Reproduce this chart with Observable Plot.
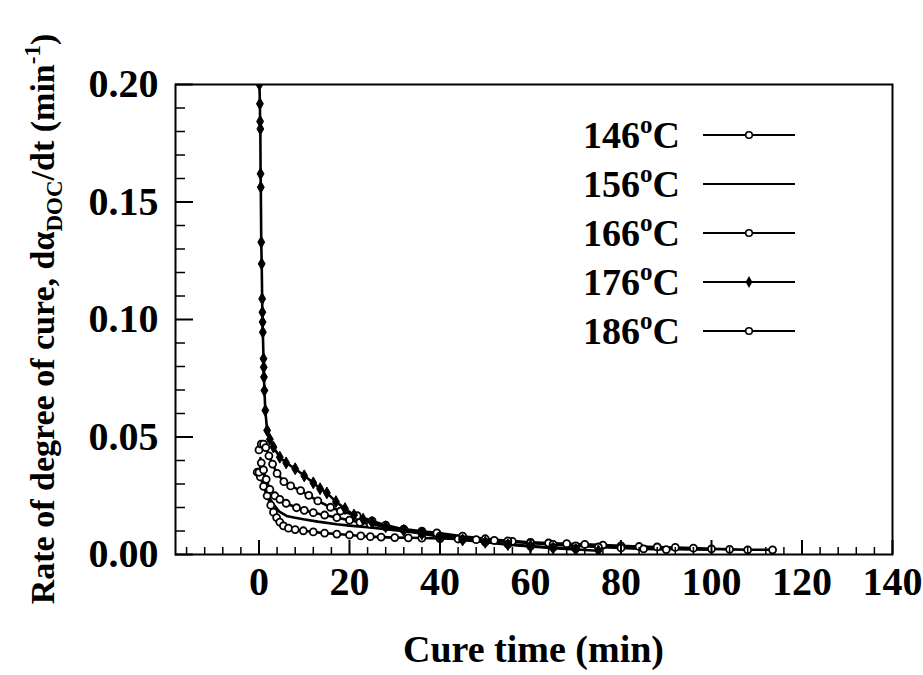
<!DOCTYPE html>
<html>
<head>
<meta charset="utf-8">
<script src="https://cdn.jsdelivr.net/npm/d3@7"></script>
<script src="https://cdn.jsdelivr.net/npm/@observablehq/plot@0.6"></script>
<style>
  html, body { margin: 0; padding: 0; background: white; }
  svg { display: block; }
</style>
</head>
<body>
<div id="chart"></div>
<script>
// ---- data ----
const seriesNames = ["146", "156", "166", "176", "186"];

const t146 = [-0.4, 0.3, 1, 1.8, 2.6, 3.2, 3.9, 4.6, 5.4, 6.5, 8, 9.8, 12, 14.5, 17.2, 20, 22.5, 24.6, 27, 30, 33, 36, 40, 44, 48, 52, 56, 60, 64, 68, 72, 76, 80, 84, 88, 92, 96, 100, 104, 108, 113.5];
const r146 = [0.035, 0.033, 0.029, 0.025, 0.021, 0.018, 0.0157, 0.0138, 0.0122, 0.0112, 0.0106, 0.0101, 0.0096, 0.0091, 0.0087, 0.0083, 0.0079, 0.0076, 0.0074, 0.0072, 0.0071, 0.007, 0.0068, 0.0066, 0.0063, 0.006, 0.0056, 0.0052, 0.0049, 0.0046, 0.0043, 0.004, 0.0037, 0.0034, 0.0032, 0.003, 0.0027, 0.0024, 0.0022, 0.002, 0.002];

const t156 = [0.3, 0.8, 1.4, 2, 3.2, 4.5, 6.1, 8, 9.8, 13, 17.2, 20, 24.6, 28, 32, 36, 40, 45, 50, 55, 60, 65, 70, 75, 80, 85, 90, 95, 100];
const r156 = [0.041, 0.035, 0.029, 0.025, 0.0214, 0.0182, 0.0164, 0.0156, 0.015, 0.014, 0.0129, 0.0123, 0.0115, 0.0108, 0.0099, 0.0091, 0.0083, 0.0073, 0.0064, 0.0056, 0.0049, 0.0043, 0.0038, 0.0034, 0.003, 0.0027, 0.0024, 0.0022, 0.002];

const t166 = [0, 0.5, 1, 1.6, 2.4, 3.5, 4.6, 6, 8.3, 10, 12, 14.5, 17.2, 20, 22.3, 24.6, 28, 32, 36, 39.3, 45, 50, 55, 60, 65, 70, 75, 80, 85, 90];
const r166 = [0.035, 0.039, 0.036, 0.032, 0.0277, 0.025, 0.0235, 0.0218, 0.0199, 0.0188, 0.0178, 0.0168, 0.0157, 0.0146, 0.0137, 0.0129, 0.0118, 0.0108, 0.0099, 0.0092, 0.0078, 0.0067, 0.0058, 0.005, 0.0043, 0.0037, 0.0032, 0.0028, 0.0024, 0.0021];

const t176 = [0.1, 0.2, 0.25, 0.3, 0.35, 0.4, 0.5, 0.6, 0.7, 0.75, 0.8, 0.85, 1.0, 1.05, 1.1, 1.2, 1.4, 1.8, 2.4, 3.2, 4.6, 6, 8, 10, 12, 13.5, 15, 17, 19, 21, 23, 25, 28, 32, 36, 40, 45, 50, 55, 60, 65, 70, 75];
const r176 = [0.2, 0.1918, 0.1843, 0.1811, 0.162, 0.1563, 0.1329, 0.1237, 0.1088, 0.1031, 0.0989, 0.0946, 0.0833, 0.0797, 0.0755, 0.0698, 0.0613, 0.0528, 0.049, 0.0457, 0.0414, 0.039, 0.0365, 0.0335, 0.0305, 0.028, 0.0262, 0.0225, 0.0195, 0.0168, 0.015, 0.0136, 0.0118, 0.0102, 0.0088, 0.0076, 0.0062, 0.0052, 0.0042, 0.0034, 0.0027, 0.0021, 0.0016];

const t186 = [0, 0.5, 1, 1.5, 2.2, 3, 4, 5.5, 7, 9.2, 11, 13, 15.8, 18, 21.7, 25, 28, 32, 36, 40, 45, 50, 55, 60, 65, 70];
const r186 = [0.0445, 0.047, 0.047, 0.0455, 0.042, 0.0385, 0.0345, 0.031, 0.0292, 0.0272, 0.0252, 0.0228, 0.0201, 0.0185, 0.0165, 0.0143, 0.0125, 0.0106, 0.0091, 0.0078, 0.0064, 0.0053, 0.0044, 0.0036, 0.003, 0.0025];

const xMajorTicks = [0, 20, 40, 60, 80, 100, 120, 140];
const xMinorTicks = [-16, -12, -8, -4, 4, 8, 12, 16, 24, 28, 32, 36, 44, 48, 52, 56, 64, 68, 72, 76, 84, 88, 92, 96, 104, 108, 112, 116, 124, 128, 132, 136];
const yMajorTicks = [0, 0.05, 0.10, 0.15, 0.20];
const yMinorTicks = [0.01, 0.02, 0.03, 0.04, 0.06, 0.07, 0.08, 0.09, 0.11, 0.12, 0.13, 0.14, 0.16, 0.17, 0.18, 0.19];

const legendLabels = ["146", "156", "166", "176", "186"];
const xTitle = "Cure time (min)";

// ---- build rows ----
function rows(name, ts, rs) { return ts.map((t, i) => ({series: name, t, r: rs[i]})); }
const d146 = rows("146", t146, r146);
const d156 = rows("156", t156, r156);
const d166 = rows("166", t166, r166);
const d176 = rows("176", t176, r176);
const d186 = rows("186", t186, r186);
const allData = [...d146, ...d156, ...d166, ...d176, ...d186];

const W = 923, H = 675, ML = 175, MR = 31, MT = 84, MB = 121;
const PW = W - ML - MR, PH = H - MT - MB;
const FONT = "'Liberation Serif', 'Times New Roman', Times, serif";

const lineStyle = {x: "t", y: "r", z: "series", stroke: "black", strokeWidth: 2.6, clip: true};
const openDot = {x: "t", y: "r", r: 3.5, stroke: "black", strokeWidth: 1.8, fill: "white", clip: true};

const chart = Plot.plot({
  width: W, height: H,
  marginLeft: ML, marginRight: MR, marginTop: MT, marginBottom: MB,
  x: {domain: [-18.45, 140]},
  y: {domain: [0, 0.2]},
  style: {fontFamily: FONT, fontWeight: "bold", background: "white", color: "black", overflow: "visible"},
  marks: [
    Plot.line(allData, lineStyle),
    Plot.dot(d146, openDot),
    Plot.dot(d166, openDot),
    Plot.dot(d186, openDot),
    Plot.dot(d176, {x: "t", y: "r", r: 3.6, symbol: "diamond", fill: "black", stroke: "black", strokeWidth: 1, clip: true}),
    Plot.ruleX(xMajorTicks, {x: d => d, insetTop: PH - 14, stroke: "black", strokeWidth: 2}),
    Plot.ruleX(xMinorTicks, {x: d => d, insetTop: PH - 7, stroke: "black", strokeWidth: 1.5}),
    Plot.ruleY(yMajorTicks, {y: d => d, insetRight: PW - 18, stroke: "black", strokeWidth: 2}),
    Plot.ruleY(yMinorTicks, {y: d => d, insetRight: PW - 10, stroke: "black", strokeWidth: 1.5}),
    Plot.frame({stroke: "black", strokeWidth: 2}),
    Plot.axisX(xMajorTicks, {tickSize: 0, tickPadding: 12, fontSize: 40, fontWeight: "bold", tickFormat: d => String(d), label: null}),
    Plot.axisY(yMajorTicks, {tickSize: 0, tickPadding: 17, fontSize: 40, fontWeight: "bold", tickFormat: d3.format(".2f"), label: null})
  ]
});

document.getElementById("chart").appendChild(chart);

// ---- titles and legend ----
const svg = d3.select(chart);

svg.append("text")
  .attr("x", ML + PW / 2).attr("y", 662)
  .attr("text-anchor", "middle")
  .attr("font-family", FONT).attr("font-weight", "bold").attr("font-size", 38)
  .attr("fill", "black")
  .text(xTitle);

const yl = svg.append("text")
  .attr("transform", `translate(54,${MT + PH / 2}) rotate(-90)`)
  .attr("text-anchor", "middle")
  .attr("font-family", FONT).attr("font-weight", "bold").attr("font-size", 34)
  .attr("fill", "black");
yl.append("tspan").text("Rate of degree of cure, d\u03B1");
yl.append("tspan").attr("font-size", 23).attr("dy", 8).text("DOC");
yl.append("tspan").attr("dy", -8).text("/dt (min");
yl.append("tspan").attr("font-size", 23).attr("dy", -14).text("-1");
yl.append("tspan").attr("dy", 14).text(")");

const lg = svg.append("g").attr("font-family", FONT).attr("font-weight", "bold").attr("fill", "black");
legendLabels.forEach((lab, i) => {
  const cy = 135 + 49 * i;
  const t = lg.append("text").attr("x", 583).attr("y", cy + 13).attr("font-size", 38).attr("text-anchor", "start");
  t.append("tspan").text(lab);
  t.append("tspan").attr("font-size", 25).attr("dy", -15).text("o");
  t.append("tspan").attr("dy", 15).text("C");
  lg.append("line").attr("x1", 703).attr("x2", 795).attr("y1", cy).attr("y2", cy)
    .attr("stroke", "black").attr("stroke-width", 2);
  if (lab === "146" || lab === "166" || lab === "186") {
    lg.append("circle").attr("cx", 749).attr("cy", cy).attr("r", 3.3)
      .attr("fill", "white").attr("stroke", "black").attr("stroke-width", 1.6);
  } else if (lab === "176") {
    lg.append("path").attr("d", d3.symbol(d3.symbolDiamond, 40)()).attr("transform", `translate(749,${cy})`)
      .attr("fill", "black");
  }
});
</script>
</body>
</html>
